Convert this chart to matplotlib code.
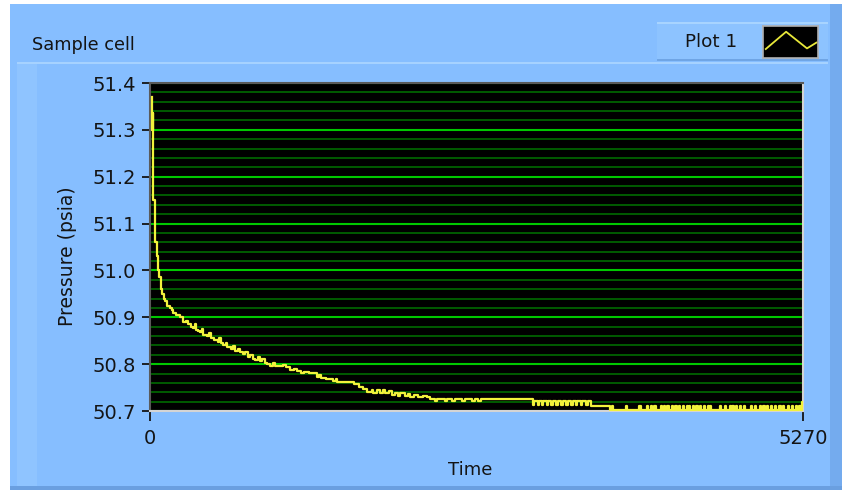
import matplotlib
matplotlib.use('Agg')
import matplotlib.pyplot as plt
from matplotlib.patches import Rectangle

# ---------------- data ----------------
time = [15, 18, 20, 22, 24, 26, 40, 44, 54, 66, 75, 85, 94, 110, 121, 140, 161, 175, 186, 210,
        242, 270, 290, 307, 330, 347, 360, 370, 390, 404, 420, 430, 460, 480, 495, 520, 545, 560,
        575, 589, 610, 625, 650, 670, 690, 710, 726, 750, 770, 790, 810, 831, 850, 870, 885, 905,
        925, 944, 970, 990, 1010, 1040, 1070, 1100, 1130, 1160, 1190, 1220, 1240, 1280, 1330, 1345,
        1360, 1380, 1420, 1480, 1500, 1510, 1560, 1600, 1650, 1690, 1720, 1750, 1790, 1800, 1830,
        1860, 1880, 1900, 1930, 1950, 1980, 2000, 2020, 2060, 2080, 2100, 2130, 2160, 2200, 2235,
        2260, 2300, 2320, 2380, 2400, 2440, 2460, 2520, 2540, 2600, 2620, 2650, 2670, 2750,
        3091, 3100, 3130, 3140, 3165, 3175, 3200, 3215, 3240, 3250, 3275, 3290, 3320, 3330,
        3360, 3370, 3400, 3410, 3440, 3450, 3480, 3490, 3520, 3535, 3560, 3712,
        3730, 3740, 3840, 3850, 3950, 3960, 4010, 4020, 4040, 4050, 4070, 4080, 4120, 4130,
        4150, 4160, 4175, 4185, 4210, 4220, 4240, 4250, 4270, 4280, 4300, 4310, 4330, 4340,
        4350, 4360, 4380, 4390, 4410, 4420, 4440, 4450, 4470, 4480, 4500, 4510, 4520, 4530,
        4600, 4610, 4640, 4650, 4680, 4690, 4700, 4710, 4730, 4740, 4760, 4770, 4790, 4800,
        4850, 4860, 4880, 4890, 4920, 4930, 4950, 4960, 4980, 4990, 5010, 5020, 5040, 5050,
        5080, 5090, 5110, 5120, 5150, 5160, 5180, 5190, 5210, 5220, 5240, 5250, 5258, 5270]
pressure = [51.37, 51.33, 51.30, 51.335, 51.30, 51.15, 51.14, 51.06, 51.03, 51.00, 50.985, 50.96,
            50.95, 50.94, 50.935, 50.925, 50.92, 50.915, 50.91, 50.905, 50.90, 50.89, 50.893,
            50.885, 50.88, 50.878, 50.885, 50.872, 50.87, 50.868, 50.876, 50.862, 50.86, 50.866,
            50.855, 50.852, 50.848, 50.855, 50.845, 50.84, 50.846, 50.836, 50.833, 50.838, 50.828,
            50.832, 50.826, 50.822, 50.826, 50.816, 50.82, 50.812, 50.808, 50.815, 50.806, 50.81,
            50.802, 50.80, 50.797, 50.803, 50.796, 50.795, 50.798, 50.793, 50.788, 50.79, 50.785,
            50.782, 50.784, 50.781, 50.781, 50.772, 50.777, 50.77, 50.768, 50.764, 50.769, 50.762,
            50.761, 50.761, 50.758, 50.752, 50.746, 50.74, 50.745, 50.738, 50.744, 50.738, 50.745,
            50.738, 50.743, 50.735, 50.738, 50.731, 50.738, 50.733, 50.737, 50.73, 50.735, 50.729,
            50.733, 50.729, 50.726, 50.722, 50.726, 50.722, 50.726, 50.722, 50.726, 50.722, 50.726,
            50.721, 50.726, 50.722, 50.726, 50.725,
            50.712, 50.722, 50.712, 50.722, 50.712, 50.722, 50.712, 50.722, 50.712, 50.722,
            50.712, 50.722, 50.712, 50.722, 50.712, 50.722, 50.712, 50.722, 50.712, 50.722,
            50.712, 50.721, 50.712, 50.721, 50.711, 50.702,
            50.711, 50.702, 50.711, 50.702, 50.711, 50.702, 50.711, 50.702, 50.711, 50.702,
            50.711, 50.702, 50.711, 50.702, 50.711, 50.702, 50.711, 50.702, 50.711, 50.702,
            50.711, 50.702, 50.711, 50.702, 50.711, 50.702, 50.711, 50.702, 50.711, 50.702,
            50.711, 50.702, 50.711, 50.702, 50.711, 50.702, 50.711, 50.702, 50.711, 50.702,
            50.711, 50.702, 50.711, 50.702, 50.711, 50.702, 50.711, 50.702, 50.711, 50.702,
            50.711, 50.702, 50.711, 50.702, 50.711, 50.702, 50.711, 50.702, 50.711, 50.702,
            50.711, 50.702, 50.711, 50.702, 50.711, 50.702, 50.711, 50.702, 50.711, 50.702,
            50.711, 50.702, 50.711, 50.702,
            50.711, 50.702, 50.711, 50.702, 50.711, 50.702, 50.711, 50.702, 50.72, 50.72]
y_major = [50.7, 50.8, 50.9, 51.0, 51.1, 51.2, 51.3, 51.4]
y_minor = [50.72, 50.74, 50.76, 50.78, 50.82, 50.84, 50.86, 50.88, 50.92, 50.94, 50.96, 50.98,
           51.02, 51.04, 51.06, 51.08, 51.12, 51.14, 51.16, 51.18, 51.22, 51.24, 51.26, 51.28,
           51.32, 51.34, 51.36, 51.38]
x_ticks = [0, 5270]
title = "Sample cell"
legend_label = "Plot 1"
x_label = "Time"
y_label = "Pressure (psia)"

# ---------------- figure ----------------
W, H = 842, 490
fig = plt.figure(figsize=(W / 100, H / 100), dpi=100)
fig.patch.set_facecolor('white')


def rect(x, y, w, h, color, z=-5):
    fig.patches.append(Rectangle((x / W, 1 - (y + h) / H), w / W, h / H,
                                 transform=fig.transFigure, facecolor=color,
                                 edgecolor='none', zorder=z))


base = '#86BEFF'
rect(10, 4, 832, 486, base)
rect(17, 62, 811, 2, '#A6D2FF')
rect(17, 64, 20, 422, '#8FC4FF')
rect(830, 4, 12, 486, '#74ABEE')
rect(10, 486, 832, 4, '#6A9FE0')
# legend box
rect(657, 22, 171, 39, '#8DC3FF')
rect(657, 22, 171, 2, '#A8D4FF')
rect(657, 59, 171, 2, '#6FA5E5')

fig.text(32 / W, 1 - 45 / H, title, fontsize=12.8, color='#141414',
         ha='left', va='center', family='DejaVu Sans')
fig.text(711 / W, 1 - 42 / H, legend_label, fontsize=13.2, color='#141414',
         ha='center', va='center', family='DejaVu Sans')

# legend swatch
sw = fig.add_axes([763 / W, 1 - 58 / H, 55 / W, 32 / H])
sw.set_facecolor('black')
sw.set_xlim(0, 1)
sw.set_ylim(0, 1)
sw.plot([0.05, 0.42, 0.8, 0.97], [0.28, 0.82, 0.3, 0.48], color='#E8E83A', lw=1.3)
sw.set_xticks([])
sw.set_yticks([])
for s in sw.spines.values():
    s.set_color('#B0B0B0')
    s.set_linewidth(1.2)

# main axes
ax = fig.add_axes([150 / W, 1 - 411 / H, 653 / W, 328 / H])
ax.set_facecolor('black')
ax.plot(time, pressure, color='#F2F23C', lw=1.6, drawstyle='steps-post', zorder=3,
        clip_on=True)
ax.set_xlim(0, 5270)
ax.set_ylim(50.7, 51.4)
ax.set_yticks(y_major)
ax.set_yticklabels([f"{v:.1f}" for v in y_major])
ax.set_yticks(y_minor, minor=True)
ax.set_xticks(x_ticks)
ax.set_xticklabels([str(v) for v in x_ticks])
ax.yaxis.grid(True, which='major', color='#00C800', lw=1.5)
ax.yaxis.grid(True, which='minor', color='#006A00', lw=1.2)
ax.set_axisbelow(True)
ax.tick_params(axis='y', which='major', direction='out', length=6, width=1.3,
               pad=4, colors='#141414', labelsize=14)
ax.tick_params(axis='y', which='minor', length=0)
ax.tick_params(axis='x', direction='out', length=7, width=1.3, pad=6,
               colors='#141414', labelsize=14)
for lbl in ax.get_xticklabels() + ax.get_yticklabels():
    lbl.set_family('DejaVu Sans')

ax.spines['top'].set_color('#5A5A5A')
ax.spines['left'].set_color('#5A5A5A')
ax.spines['bottom'].set_color('#D4D4D4')
ax.spines['right'].set_color('#D4D4D4')
for s in ax.spines.values():
    s.set_linewidth(1.5)

ax.set_ylabel(y_label, fontsize=13.5, color='#141414', family='DejaVu Sans')
ax.yaxis.set_label_coords(-0.112, 0.473)
ax.set_xlabel(x_label, fontsize=13, color='#141414', family='DejaVu Sans', va='center')
ax.xaxis.set_label_coords(0.49, -0.18)

fig.savefig('out.png', dpi=100, facecolor=fig.get_facecolor())
